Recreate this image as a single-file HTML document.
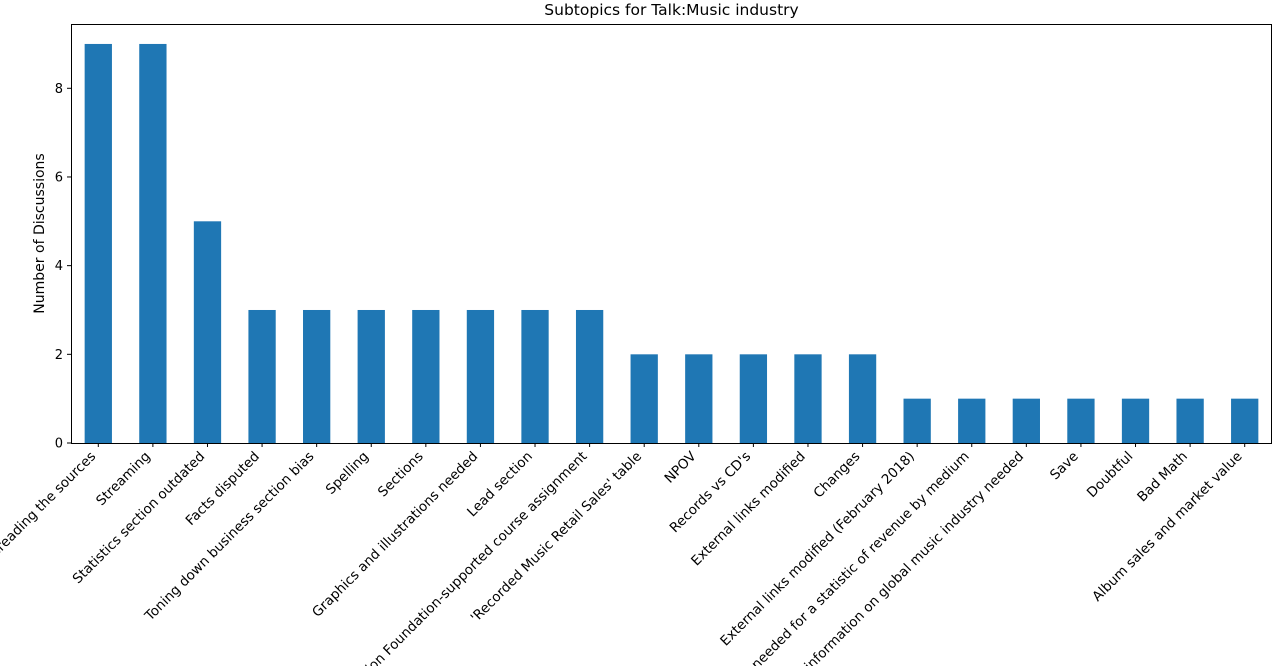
<!DOCTYPE html>
<html><head><meta charset="utf-8"><style>
html,body{margin:0;padding:0;background:#fff;overflow:hidden;width:1283px;height:666px}
svg{display:block;font-family:"DejaVu Sans","Liberation Sans",sans-serif;overflow:hidden}
</style></head><body>
<svg id="chart" width="1283" height="666"></svg>
<script>
const categories = ["Misreading the sources","Streaming","Statistics section outdated","Facts disputed","Toning down business section bias","Spelling","Sections","Graphics and illustrations needed","Lead section","Wiki Education Foundation-supported course assignment","'Recorded Music Retail Sales' table","NPOV","Records vs CD's","External links modified","Changes","External links modified (February 2018)","Citation needed for a statistic of revenue by medium","More information on global music industry needed","Save","Doubtful","Bad Math","Album sales and market value"];
const values = [9,9,5,3,3,3,3,3,3,3,2,2,2,2,2,1,1,1,1,1,1,1];
const yTicks = [0,2,4,6,8];
const titleText = "Subtopics for Talk:Music industry";
const yLabel = "Number of Discussions";

const NS="http://www.w3.org/2000/svg";
const svg=document.getElementById('chart');
const L=71,R=1272,T=24,B=443;
const yMax=9.45;
const y=v=>B-(v/yMax)*(B-T);
const step=(R-L)/categories.length;
const x=i=>L+step*(i+0.5);
function mk(tag,attrs,parent){const e=document.createElementNS(NS,tag);for(const k in attrs)e.setAttribute(k,attrs[k]);(parent||svg).appendChild(e);return e;}

const title=mk('text',{x:(L+R)/2,y:15,'text-anchor':'middle','font-size':15.5,fill:'#000'});


title.textContent=titleText;

const bars=mk('g',{});


values.forEach((v,i)=>{
  const r=mk('rect',{x:x(i)-step*0.25,y:y(v),width:step*0.5,height:B-y(v),fill:'#1f77b4'},bars);
  
  
});

const ya=mk('g',{});


yTicks.forEach(t=>{
  mk('line',{x1:L-4,x2:L,y1:y(t),y2:y(t),stroke:'#000','stroke-width':1},ya);
  const tx=mk('text',{x:L-8,y:y(t)+4.5,'text-anchor':'end','font-size':13},ya);
  
  
  tx.textContent=t;
});
const yl=mk('text',{transform:`translate(44,${(T+B)/2}) rotate(-90)`,'text-anchor':'middle','font-size':14});


yl.textContent=yLabel;

const xa=mk('g',{});


categories.forEach((c,i)=>{
  mk('line',{x1:x(i),x2:x(i),y1:B,y2:B+4,stroke:'#000','stroke-width':1},xa);
  const tx=mk('text',{transform:`translate(${x(i)-2},${B+14}) rotate(-45)`,'text-anchor':'end','font-size':13.5},xa);
  
  
  tx.textContent=c;
});

const frame=mk('rect',{x:L+0.5,y:T+0.5,width:R-L-1,height:B-T,fill:'none',stroke:'#000','stroke-width':1});


</script>
</body></html>
